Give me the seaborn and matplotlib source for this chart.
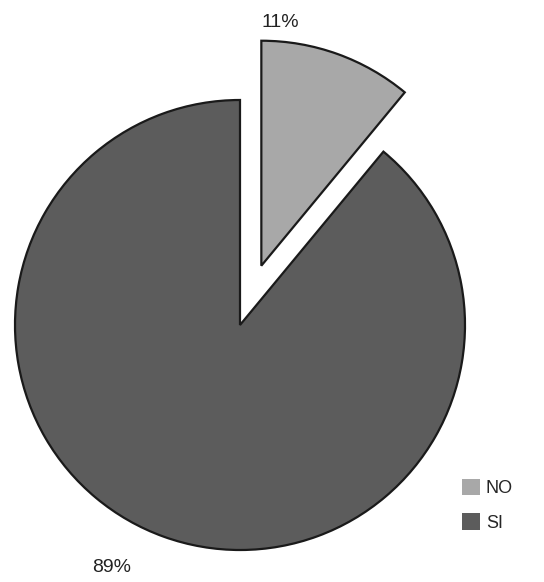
import matplotlib
matplotlib.use("Agg")
import matplotlib.pyplot as plt
import seaborn as sns

labels = ["NO", "SI"]
values = [11, 89]
pct_labels = ["11%", "89%"]
colors = ["#a8a8a8", "#5c5c5c"]

sns.set_theme(style="white")
plt.rcParams["font.family"] = ["Liberation Sans", "DejaVu Sans"]

fig = plt.figure(figsize=(5.44, 5.82), dpi=100)
ax = fig.add_axes([0, 0, 1, 1])

wedges, _ = ax.pie(values, colors=colors, startangle=90, counterclock=False,
                   explode=[0.28, 0], radius=1,
                   wedgeprops=dict(edgecolor="#1a1a1a", linewidth=1.6))

# percent labels sit outside the pie
ax.text(0.178, 1.345, pct_labels[0], ha="center", va="center", fontsize=14, color="#222222")
ax.text(-0.57, -1.08, pct_labels[1], ha="center", va="center", fontsize=14, color="#222222")

ax.set_xlim(-240 / 225, (544 - 240) / 225)
ax.set_ylim((325 - 582) / 225, 325 / 225)
ax.set_aspect("equal")
ax.axis("off")

leg = ax.legend(wedges, labels, loc="upper left", bbox_to_anchor=(0.82, 0.205),
                bbox_transform=fig.transFigure, frameon=False, fontsize=13,
                handlelength=1.0, handleheight=1.0, handletextpad=0.3, labelspacing=0.9)
for h in leg.legend_handles:
    h.set_edgecolor("none")

fig.savefig("out.png", dpi=100)
